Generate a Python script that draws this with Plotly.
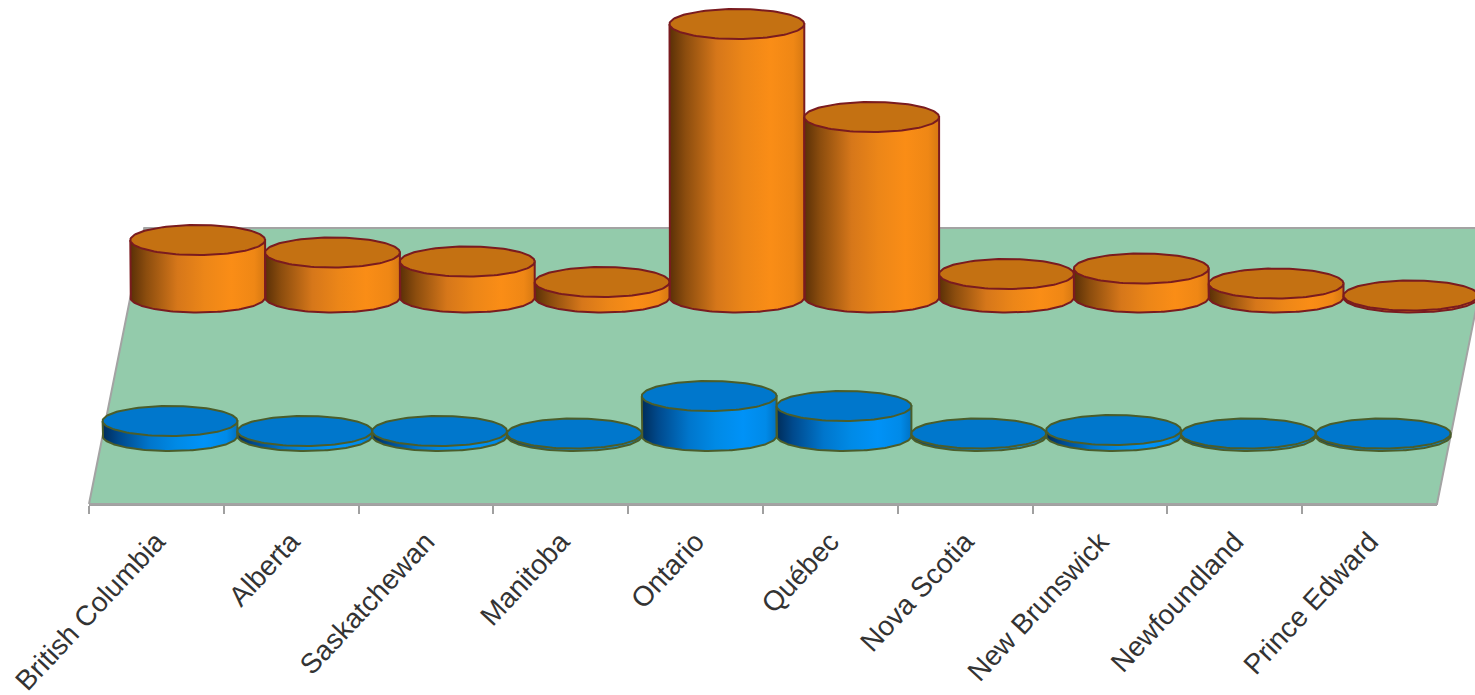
import numpy as np
import plotly.graph_objects as go

# ---------------- data ----------------
provinces = ["British Columbia", "Alberta", "Saskatchewan", "Manitoba", "Ontario",
             "Québec", "Nova Scotia", "New Brunswick", "Newfoundland", "Prince Edward"]
series_back = [57.5, 45, 36, 15.5, 273.5, 180.5, 23.5, 29, 14, 2]      # orange row
series_front = [15, 5, 5, 2.5, 40, 30, 2.5, 6, 2.5, 2.5]               # blue row

# ---------------- geometry / style ----------------
W, H = 1475, 695
L_PX, R_PX = 89, 1437          # front edge of the floor (category axis)
FLOOR_Y = 504                  # axis line, px from top
N = len(provinces)
CAT_PX = (R_PX - L_PX) / N
SLANT = 0.2                    # horizontal shift per unit of depth
FLOOR_DEPTH = 276
BACK_DEPTH = 206.5
FRONT_DEPTH = 68
RY = 15                        # ellipse half height (depth units)
RX = 0.5                       # ellipse half width (category units)
UNIT = 1.0                     # vertical units per value unit

orange = dict(
    scale=[[0, "#5a3007"], [0.12, "#8c4d0e"], [0.35, "#d6771a"], [0.55, "#ec8618"],
           [0.75, "#fa8d16"], [0.92, "#ef8715"], [1, "#d67812"]],
    top="#c47112", line="#7a1b1f")
blue = dict(
    scale=[[0, "#002d5a"], [0.12, "#00498c"], [0.35, "#0076cc"], [0.55, "#008ae6"],
           [0.75, "#0092f7"], [0.92, "#008ae8"], [1, "#0072c4"]],
    top="#0077cc", line="#4b5d2a")


def shift(d):
    return d * SLANT / CAT_PX


fig = go.Figure()

# invisible trace to build the category axis
fig.add_trace(go.Scatter(x=provinces, y=[0.5] * N, mode="markers",
                         marker=dict(opacity=0), hoverinfo="skip",
                         xaxis="x", yaxis="y", showlegend=False))

# floor
fx = [-0.5, N - 0.5, N - 0.5 + shift(FLOOR_DEPTH), -0.5 + shift(FLOOR_DEPTH), -0.5]
fy = [0, 0, FLOOR_DEPTH, FLOOR_DEPTH, 0]
fig.add_trace(go.Scatter(x=fx, y=fy, mode="lines", fill="toself",
                         fillcolor="#93cbab", line=dict(color="#a3a3a3", width=2),
                         hoverinfo="skip", xaxis="x2", yaxis="y2", showlegend=False))


def add_cylinders(values, depth, sty):
    for i, v in enumerate(values):
        cx = i + shift(depth)
        base = depth
        top = depth + v * UNIT
        t = np.linspace(np.pi, 2 * np.pi, 80)
        xs = [cx - RX] + list(cx + RX * np.cos(t)) + [cx + RX, cx - RX]
        ys = [top] + list(base + RY * np.sin(t)) + [top, top]
        fig.add_trace(go.Scatter(
            x=xs, y=ys, mode="lines", fill="toself",
            fillgradient=dict(type="horizontal", colorscale=sty["scale"]),
            line=dict(color=sty["line"], width=2),
            hoverinfo="skip", xaxis="x2", yaxis="y2", showlegend=False))
        tt = np.linspace(0, 2 * np.pi, 120)
        fig.add_trace(go.Scatter(
            x=cx + RX * np.cos(tt), y=top + RY * np.sin(tt), mode="lines",
            fill="toself", fillcolor=sty["top"],
            line=dict(color=sty["line"], width=2),
            hoverinfo="skip", xaxis="x2", yaxis="y2", showlegend=False))


add_cylinders(series_back, BACK_DEPTH, orange)
add_cylinders(series_front, FRONT_DEPTH, blue)

fig.update_layout(
    template="none",
    width=W, height=H,
    margin=dict(l=0, r=0, t=0, b=0),
    paper_bgcolor="white",
    plot_bgcolor="rgba(0,0,0,0)",
    showlegend=False,
    font=dict(family="Liberation Sans, Arial, sans-serif", color="#333333"),
    xaxis=dict(type="category", categoryorder="array", categoryarray=provinces,
               domain=[L_PX / W, R_PX / W], anchor="y", range=[-0.5, N - 0.5],
               tickson="boundaries", ticks="outside", ticklen=8, tickwidth=1.5,
               tickcolor="#a0a0a0", showline=True, linecolor="#a0a0a0", linewidth=2,
               tickangle=-47, tickfont=dict(size=28, color="#333333"),
               ticklabelstandoff=8,
               showgrid=False, zeroline=False, automargin=False, fixedrange=True),
    yaxis=dict(domain=[(H - FLOOR_Y) / H, 1], range=[0, 1], visible=False,
               anchor="x", fixedrange=True),
    xaxis2=dict(domain=[0, 1], anchor="y2",
                range=[-0.5 - L_PX / CAT_PX, -0.5 + (W - L_PX) / CAT_PX],
                visible=False, showgrid=False, zeroline=False, fixedrange=True),
    yaxis2=dict(domain=[0, 1], anchor="x2", range=[-(H - FLOOR_Y), FLOOR_Y],
                visible=False, showgrid=False, zeroline=False, fixedrange=True),
)

fig.write_html("out.html")
